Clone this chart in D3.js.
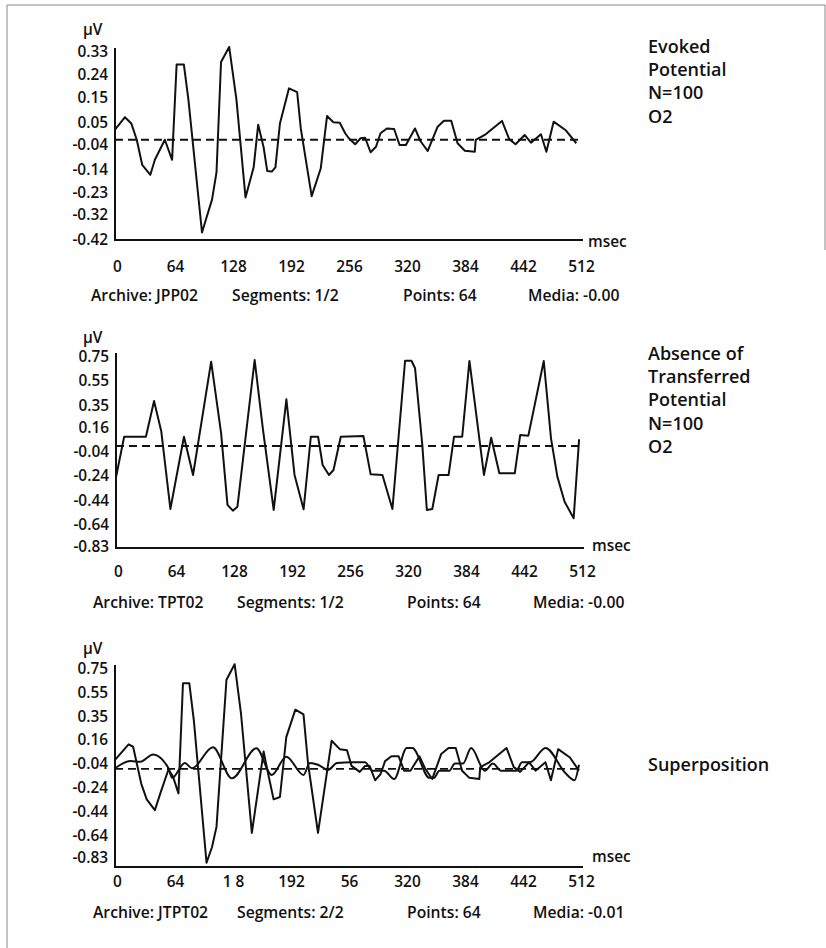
<!DOCTYPE html>
<html>
<head>
<meta charset="utf-8">
<script src="https://cdn.jsdelivr.net/npm/d3@7"></script>
<style>
  body { margin: 0; background: #fff; }
  text { font-family: "Open Sans", sans-serif; font-weight: 600; fill: #111; font-size: 15.4px; }
  .foot { font-size: 15.7px; }
  .title { font-size: 18px; }
</style>
</head>
<body>
<svg id="chart" width="826" height="948"></svg>
<script>
// ---- data (msec, µV) ----
const evokedTime = [0, 11, 18, 24, 30, 39, 44, 55, 63, 68, 76, 81, 96, 101, 107, 112, 117, 126, 134, 144, 153, 158, 164, 168, 173, 177, 182, 192, 201, 205, 217, 227, 234, 241, 248, 254, 258, 265, 271, 276, 282, 288, 293, 300, 308, 314, 321, 331, 337, 345, 356, 363, 371, 378, 386, 397, 398, 408, 427, 435, 442, 452, 459, 470, 476, 484, 497, 509];
const evokedValue = [0.02, 0.07, 0.045, -0.02, -0.12, -0.16, -0.10, -0.02, -0.10, 0.28, 0.28, 0.14, -0.39, -0.33, -0.26, -0.15, 0.29, 0.35, 0.14, -0.25, -0.13, 0.04, -0.05, -0.145, -0.147, -0.13, 0.045, 0.185, 0.17, 0.025, -0.245, -0.135, 0.075, 0.05, 0.048, 0.006, -0.014, -0.038, -0.014, -0.012, -0.07, -0.048, 0.006, 0.025, 0.023, -0.041, -0.041, 0.025, -0.025, -0.065, 0.032, 0.056, 0.056, -0.034, -0.064, -0.068, -0.021, -0.001, 0.055, -0.018, -0.038, -0.001, -0.032, 0.002, -0.068, 0.052, 0.019, -0.034];

const transferredTime = [0, 9, 33, 42, 50, 60, 75, 85, 105, 116, 123, 129, 134, 153, 162, 174, 188, 197, 207, 215, 223, 228, 235, 240, 248, 273, 281, 294, 305, 319, 326, 330, 338, 343, 349, 356, 367, 373, 382, 390, 406, 414, 423, 440, 446, 455, 472, 480, 487, 495, 505, 511];
const transferredValue = [-0.25, 0.087, 0.087, 0.384, 0.13, -0.514, 0.087, -0.231, 0.711, 0.115, -0.48, -0.528, -0.495, 0.725, 0.157, -0.522, 0.398, -0.231, -0.517, 0.087, 0.087, -0.148, -0.231, -0.19, 0.087, 0.093, -0.226, -0.231, -0.514, 0.719, 0.719, 0.656, 0.018, -0.522, -0.514, -0.231, -0.231, 0.087, 0.087, 0.717, -0.231, 0.079, -0.217, -0.217, 0.101, 0.096, 0.717, 0.074, -0.245, -0.453, -0.591, 0.066];

const superEvokedTime = [0, 15, 20, 29, 35, 44, 50, 59, 64, 70, 75, 82, 87, 101, 107, 112, 123, 132, 139, 151, 164, 168, 175, 182, 189, 199, 208, 213, 224, 239, 248, 256, 261, 270, 276, 281, 287, 293, 298, 305, 313, 319, 326, 336, 342, 350, 360, 368, 376, 383, 391, 402, 403, 413, 432, 440, 447, 457, 464, 475, 481, 489, 502, 512];
const superEvokedValue = [-0.01, 0.12, 0.10, -0.21, -0.34, -0.43, -0.29, -0.09, -0.15, -0.29, 0.63, 0.63, 0.32, -0.87, -0.74, -0.57, 0.66, 0.79, 0.38, -0.62, 0.06, -0.09, -0.34, -0.32, 0.18, 0.41, 0.37, -0.04, -0.62, 0.15, 0.08, 0.07, -0.06, -0.11, -0.06, -0.06, -0.18, -0.13, -0.02, 0.02, 0.02, -0.10, -0.10, 0.02, -0.08, -0.17, 0.04, 0.09, 0.09, -0.10, -0.16, -0.17, -0.07, -0.03, 0.09, -0.07, -0.11, -0.03, -0.10, -0.03, -0.18, 0.08, 0.01, -0.10];

const superTransferredTime = [0, 17, 28, 42, 59, 63, 77, 85, 108, 129, 156, 173, 189, 208, 215, 224, 235, 245, 262, 276, 284, 297, 308, 322, 328, 347, 352, 358, 369, 375, 384, 393, 408, 417, 426, 443, 449, 458, 475, 497, 507, 512];
const superTransferredValue = [-0.08, -0.02, -0.025, 0.036, -0.08, -0.16, -0.036, -0.08, 0.095, -0.164, 0.087, -0.136, 0.017, -0.136, -0.036, -0.05, -0.094, -0.036, -0.03, -0.03, -0.10, -0.10, -0.17, 0.09, 0.09, -0.16, -0.16, -0.10, -0.10, -0.04, -0.04, 0.09, -0.10, -0.04, -0.10, -0.10, -0.03, -0.03, 0.09, -0.12, -0.18, -0.05];

const xTickValues = [0, 64, 128, 192, 256, 320, 384, 448, 512];
const xTickLabels = ["0", "64", "128", "192", "256", "320", "384", "442", "512"];
const xTickLabels3 = ["0", "64", "1 8", "192", "56", "320", "384", "442", "512"];

const yTicks1 = [0.33, 0.24, 0.15, 0.05, -0.04, -0.14, -0.23, -0.32, -0.42];
const yTicks2 = [0.75, 0.55, 0.35, 0.16, -0.04, -0.24, -0.44, -0.64, -0.83];
const yTicks3 = [0.75, 0.55, 0.35, 0.16, -0.04, -0.24, -0.44, -0.64, -0.83];

const baseline1 = -0.02, baseline2 = 0.01, baseline3 = -0.085;

const footer1 = ["Archive: JPP02", "Segments: 1/2", "Points: 64", "Media: -0.00"];
const footer2 = ["Archive: TPT02", "Segments: 1/2", "Points: 64", "Media: -0.00"];
const footer3 = ["Archive: JTPT02", "Segments: 2/2", "Points: 64", "Media: -0.01"];

const title1 = ["Evoked", "Potential", "N=100", "O2"];
const title2 = ["Absence of", "Transferred", "Potential", "N=100", "O2"];
const title3 = ["Superposition"];

// ---- layout ----
const panels = [
  { series: [[evokedTime, evokedValue, d3.curveLinear]], yTicks: yTicks1, xLabels: xTickLabels,
    baseline: baseline1, footer: footer1, title: title1,
    x0: 115, top: 52, bottom: 240, axisY: 240, unitY: 35, msecX: 588, msecY: 247,
    tickY: 272, footY: 301, footX: [91, 232, 403, 528], titleY: 53 },
  { series: [[transferredTime, transferredValue, d3.curveLinear]], yTicks: yTicks2, xLabels: xTickLabels,
    baseline: baseline2, footer: footer2, title: title2,
    x0: 116, top: 357, bottom: 547, axisY: 548, unitY: 343, msecX: 592, msecY: 551,
    tickY: 577, footY: 608, footX: [93, 237, 407, 533], titleY: 360 },
  { series: [[superEvokedTime, superEvokedValue, d3.curveLinear],
             [superTransferredTime, superTransferredValue, d3.curveMonotoneX]],
    yTicks: yTicks3, xLabels: xTickLabels3,
    baseline: baseline3, footer: footer3, title: title3,
    x0: 115, top: 669, bottom: 858, axisY: 867, unitY: 654, msecX: 592, msecY: 862,
    tickY: 887, footY: 918, footX: [93, 237, 407, 533], titleY: 771 }
];

const svg = d3.select('#chart');

// scanned page frame
svg.append('path')
  .attr('d', 'M7,948V5H825V250')
  .attr('fill', 'none')
  .attr('stroke', '#888')
  .attr('stroke-width', 1);

panels.forEach((p) => {
  const g = svg.append('g');
  const xScale = d3.scaleLinear().domain([0, 512]).range([p.x0, p.x0 + 464]);
  const yScale = d3.scaleLinear()
    .domain([d3.min(p.yTicks), d3.max(p.yTicks)])
    .range([p.bottom, p.top]);

  // y tick labels
  g.append('g')
    .attr('class', 'y axis')
    .attr('transform', 'translate(' + (p.x0 - 7) + ',0)')
    .call(d3.axisLeft(yScale).tickValues(p.yTicks).tickSize(0).tickPadding(0)
      .tickFormat((d) => d.toFixed(2)))
    .call((a) => a.select('.domain').remove());

  // x tick labels
  g.append('g')
    .attr('class', 'x axis')
    .attr('transform', 'translate(2,' + p.tickY + ')')
    .call(d3.axisBottom(xScale).tickValues(xTickValues).tickSize(0).tickPadding(0)
      .tickFormat((d, i) => p.xLabels[i]))
    .call((a) => a.select('.domain').remove())
    .selectAll('text').attr('y', 0).attr('dy', null);

  // axis lines
  g.append('path')
    .attr('d', 'M' + p.x0 + ',' + (p.top - 4) + 'V' + p.axisY + 'H' + (p.x0 + 468))
    .attr('fill', 'none')
    .attr('stroke', '#111')
    .attr('stroke-width', 2);

  // dashed reference line
  g.append('line')
    .attr('x1', xScale(0)).attr('x2', xScale(512) + 4)
    .attr('y1', yScale(p.baseline)).attr('y2', yScale(p.baseline))
    .attr('stroke', '#111')
    .attr('stroke-width', 1.8)
    .attr('stroke-dasharray', '8,5');

  p.series.forEach(([t, v, curve]) => {
    const line = d3.line()
      .x((d) => xScale(d[0]))
      .y((d) => yScale(d[1]))
      .curve(curve);
    g.append('path')
      .datum(d3.zip(t, v))
      .attr('d', line)
      .attr('fill', 'none')
      .attr('stroke', '#111')
      .attr('stroke-width', 2)
      .attr('stroke-linejoin', 'round');
  });

  g.append('text').attr('x', 83).attr('y', p.unitY).text('\u00B5V');
  g.append('text').attr('x', p.msecX).attr('y', p.msecY).text('msec');

  g.selectAll('.foot')
    .data(p.footer)
    .enter()
    .append('text')
    .attr('class', 'foot')
    .attr('x', (d, i) => p.footX[i])
    .attr('y', p.footY)
    .text((d) => d);

  g.selectAll('.title')
    .data(p.title)
    .enter()
    .append('text')
    .attr('class', 'title')
    .attr('x', 648)
    .attr('y', (d, i) => p.titleY + i * 23.2)
    .text((d) => d);
});
</script>
</body>
</html>
